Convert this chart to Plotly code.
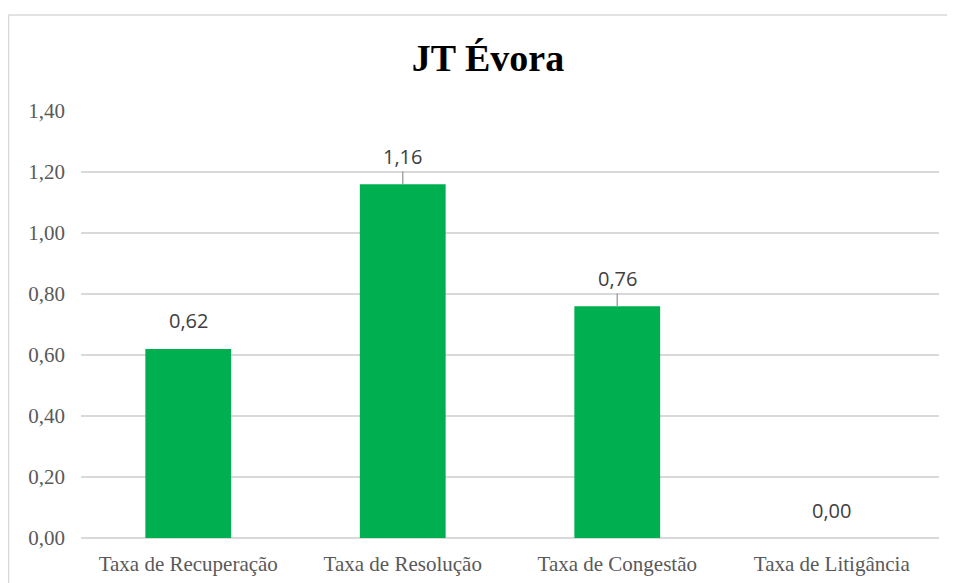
import plotly.graph_objects as go

categories = ["Taxa de Recuperação", "Taxa de Resolução", "Taxa de Congestão", "Taxa de Litigância"]
values = [0.62, 1.16, 0.76, 0.00]
value_labels = ["0,62", "1,16", "0,76", "0,00"]
leader = [False, True, True, False]
tick_vals = [0, 0.2, 0.4, 0.6, 0.8, 1.0, 1.2, 1.4]
tick_text = ["0,00", "0,20", "0,40", "0,60", "0,80", "1,00", "1,20", "1,40"]

# page body has an 8px default margin: compensate
OFF = 8
W, H = 955 - OFF, 583 - OFF
ml, mt = 81 - OFF, 111 - OFF
mr = W - (939 - OFF)
mb = H - (538 - OFF)
pw, ph = W - ml - mr, H - mt - mb

fig = go.Figure()
fig.add_trace(go.Bar(
    x=categories, y=values,
    marker=dict(color="#00b050", line=dict(width=0)),
    hoverinfo="skip",
))

annotations = []
shapes = []
for c, v, t, ld in zip(categories, values, value_labels, leader):
    annotations.append(dict(
        x=c, y=v, xref="x", yref="y", text=t, showarrow=False,
        yshift=28, font=dict(family="Open Sans, Liberation Sans, sans-serif", size=20, color="#404040"),
    ))
    if ld:
        shapes.append(dict(
            type="line", xref="x", yref="y", x0=c, x1=c, y0=v, y1=v + 13 / ph * 1.4,
            line=dict(color="#a6a6a6", width=1.5),
        ))

# outer chart border (left and top edges visible)
bx = (8 - OFF - ml) / pw
by = 1 + (mt - (15 - OFF)) / ph
shapes.append(dict(type="line", xref="paper", yref="paper", x0=bx + 0.5 / pw, x1=bx + 0.5 / pw, y0=by, y1=-1,
                   line=dict(color="#d9d9d9", width=1.5)))
shapes.append(dict(type="line", xref="paper", yref="paper", x0=bx, x1=2, y0=by, y1=by,
                   line=dict(color="#d9d9d9", width=1.5)))

fig.update_layout(
    width=W, height=H,
    margin=dict(l=ml, r=mr, t=mt, b=mb),
    paper_bgcolor="white", plot_bgcolor="white",
    bargap=0.6,
    showlegend=False,
    title=dict(text="<b>JT Évora</b>", x=(488 - OFF) / W, xanchor="center", y=1 - (58 - OFF) / H, yanchor="middle",
               font=dict(family="Liberation Serif, Times New Roman, serif", size=38, color="black")),
    xaxis=dict(showgrid=False, showline=False, ticks="", ticklabelstandoff=11, automargin=False,
               tickfont=dict(family="Liberation Serif, serif", size=21, color="#595959")),
    yaxis=dict(range=[0, 1.4], tickvals=tick_vals, ticktext=tick_text, showgrid=True, gridcolor="#d9d9d9",
               gridwidth=1.5, zeroline=True, zerolinecolor="#d9d9d9", zerolinewidth=1.5, automargin=False,
               ticks="", ticklen=0, ticklabelstandoff=15,
               tickfont=dict(family="Liberation Serif, serif", size=21, color="#595959")),
    annotations=annotations,
    shapes=shapes,
)

fig.write_html("out.html")
